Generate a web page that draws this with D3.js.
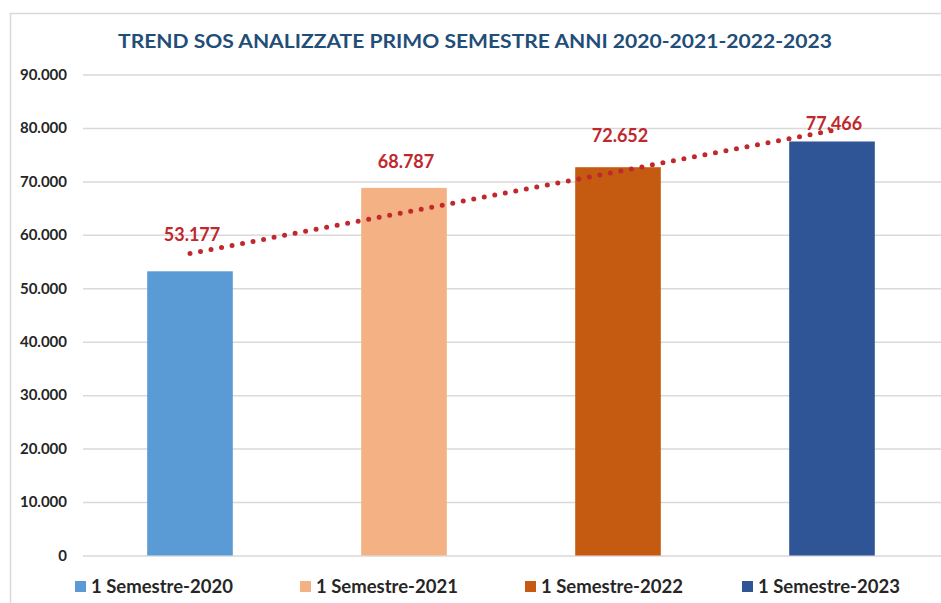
<!DOCTYPE html>
<html>
<head>
<meta charset="utf-8">
<script src="https://cdn.jsdelivr.net/npm/d3@7"></script>
<style>
  body { margin: 0; background: #fff; }
  svg { display: block; font-family: Lato, "Open Sans", sans-serif; }
</style>
</head>
<body>
<svg id="chart" width="941" height="603"></svg>
<script>
// data
var categories = ['1 Semestre-2020', '1 Semestre-2021', '1 Semestre-2022', '1 Semestre-2023'];
var values = [53177, 68787, 72652, 77466];
var barColors = ['#5b9bd5', '#f4b183', '#c55a11', '#2f5597'];
var tickValues = [0, 10000, 20000, 30000, 40000, 50000, 60000, 70000, 80000, 90000];
var titleText = 'TREND SOS ANALIZZATE PRIMO SEMESTRE ANNI 2020-2021-2022-2023';

// label offsets above bar top (labels were moved by hand in the original)
var labelDy = [30, 20, 25, 11];

var svg = d3.select('#chart');
var red = '#c0282d';

var fmt = function(v) {
	return d3.format(',')(v).replace(/,/g, '.');
}

// frame
svg.append('rect')
	.attr('x', 10.5)
	.attr('y', 13.5)
	.attr('width', 960)
	.attr('height', 620)
	.attr('fill', 'none')
	.attr('stroke', '#d9d9d9')
	.attr('stroke-width', 1.5);

var x = d3.scaleBand()
	.domain(categories)
	.range([83, 939])
	.paddingInner(0.6)
	.paddingOuter(0.3);

var y = d3.scaleLinear()
	.domain([0, 90000])
	.range([555.5, 74.5]);

// grid + y labels
var yaxis = d3.axisLeft(y)
	.tickValues(tickValues)
	.tickSize(-(941 - 83))
	.tickPadding(16)
	.tickFormat(fmt);

var ga = svg.append('g')
	.attr('transform', 'translate(83,0)')
	.call(yaxis);
ga.select('.domain').remove();
ga.selectAll('.tick line')
	.attr('stroke', '#d9d9d9')
	.attr('stroke-width', 1.5);
ga.selectAll('.tick text')
	.attr('fill', '#262626')
	.attr('font-size', 15)
	.attr('font-weight', 'bold')
	.attr('font-family', 'Lato, sans-serif');

// bars
svg.append('g').selectAll('rect')
	.data(values)
	.enter().append('rect')
	.attr('x', (d, i) => x(categories[i]))
	.attr('y', d => y(d))
	.attr('width', x.bandwidth())
	.attr('height', d => y(0) - y(d))
	.attr('fill', (d, i) => barColors[i]);

// linear trend (least squares, like the spreadsheet trendline)
var n = values.length;
var mx = (n + 1) / 2;
var my = d3.mean(values);
var slope = d3.sum(values, (v, i) => (i + 1 - mx) * (v - my)) / d3.sum(values, (v, i) => (i + 1 - mx) * (i + 1 - mx));
var trend = [[categories[0], my + slope * (1 - mx)], [categories[n - 1], my + slope * (n - mx)]];

var line = d3.line()
	.x(d => x(d[0]) + x.bandwidth() / 2)
	.y(d => y(d[1]));

svg.append('path')
	.datum(trend)
	.attr('d', line)
	.attr('fill', 'none')
	.attr('stroke', red)
	.attr('stroke-width', 5)
	.attr('stroke-linecap', 'round')
	.attr('stroke-dasharray', '0 10.7');

// value labels
svg.append('g').selectAll('text')
	.data(values)
	.enter().append('text')
	.attr('x', (d, i) => x(categories[i]) + x.bandwidth() / 2 + 2)
	.attr('y', (d, i) => y(d) - labelDy[i])
	.attr('text-anchor', 'middle')
	.attr('fill', red)
	.attr('font-size', 18)
	.attr('font-weight', 'bold')
	.text(fmt);

// title
svg.append('text')
	.attr('x', 475)
	.attr('y', 48)
	.attr('text-anchor', 'middle')
	.attr('fill', '#1f4e79')
	.attr('font-size', 19)
	.attr('font-weight', 'bold')
	.attr('textLength', 714)
	.attr('lengthAdjust', 'spacingAndGlyphs')
	.text(titleText);

// legend
var legendX = [75, 300, 525, 742];
var lg = svg.append('g').selectAll('g')
	.data(categories)
	.enter().append('g')
	.attr('transform', (d, i) => 'translate(' + legendX[i] + ',593)');
lg.append('rect')
	.attr('x', 0)
	.attr('y', -12)
	.attr('width', 11)
	.attr('height', 11)
	.attr('fill', (d, i) => barColors[i]);
lg.append('text')
	.attr('x', 16)
	.attr('y', 0)
	.attr('fill', '#262626')
	.attr('font-size', 18.5)
	.attr('font-weight', 'bold')
	.text(d => d);
</script>
</body>
</html>
